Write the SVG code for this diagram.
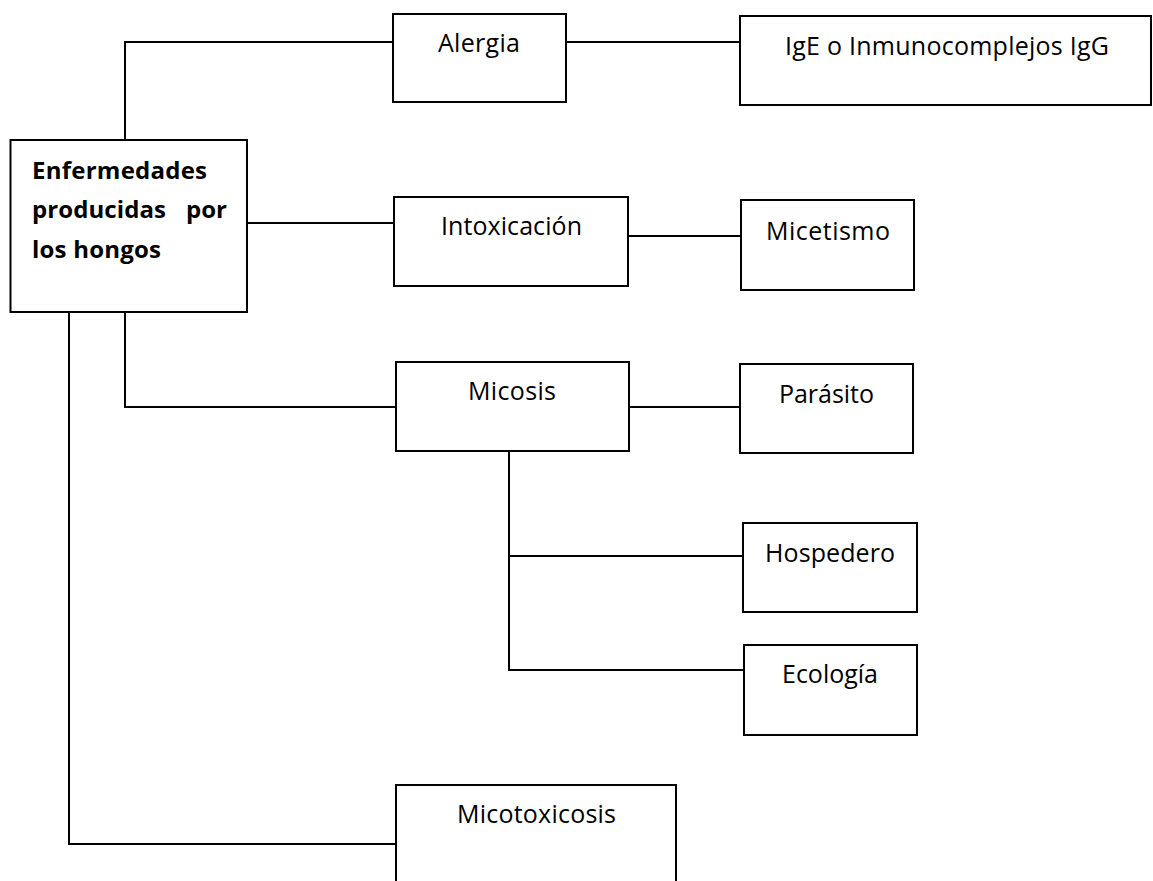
<svg xmlns="http://www.w3.org/2000/svg" width="1153" height="881" viewBox="0 0 1153 881">
<style>
.box{fill:#fff;stroke:#000;stroke-width:2}
.con{fill:none;stroke:#000;stroke-width:2}
.t{font-family:"Open Sans","Noto Sans",sans-serif;font-size:25px;fill:#000}
.b{font-family:"Open Sans","Noto Sans",sans-serif;font-size:24px;font-weight:bold;fill:#000}
</style>
<rect width="1153" height="881" fill="#fff"/>
<g id="connectors">
<path class="con" d="M125,140 V42 H393"/>
<path class="con" d="M566,42 H740"/>
<path class="con" d="M247,223 H394"/>
<path class="con" d="M626,236 H741"/>
<path class="con" d="M125,312 V407 H396"/>
<path class="con" d="M629,407 H740"/>
<path class="con" d="M509,451 V670 H744"/>
<path class="con" d="M509,556 H743"/>
<path class="con" d="M69,312 V844 H396"/>
</g>
<g id="root">
<rect class="box" x="10.5" y="140" width="236.5" height="172"/>
<text class="b" x="32" y="179" textLength="175">Enfermedades</text>
<text class="b" x="32" y="218" textLength="134">producidas</text>
<text class="b" x="227" y="218" text-anchor="end">por</text>
<text class="b" x="32" y="258" textLength="129">los hongos</text>
</g>
<g id="alergia">
<rect class="box" x="393" y="14" width="173" height="88"/>
<text class="t" x="438" y="52" textLength="82">Alergia</text>
</g>
<g id="ige">
<rect class="box" x="740" y="16" width="411" height="89"/>
<text class="t" x="785" y="55" textLength="324">IgE o Inmunocomplejos IgG</text>
</g>
<g id="intoxicacion">
<rect class="box" x="394" y="197" width="234" height="89"/>
<text class="t" x="441" y="235" textLength="141">Intoxicación</text>
</g>
<g id="micetismo">
<rect class="box" x="741" y="200" width="173" height="90"/>
<text class="t" x="766" y="240" textLength="124">Micetismo</text>
</g>
<g id="micosis">
<rect class="box" x="396" y="362" width="233" height="89"/>
<text class="t" x="468" y="400" textLength="88">Micosis</text>
</g>
<g id="parasito">
<rect class="box" x="740" y="364" width="173" height="89"/>
<text class="t" x="779" y="403" textLength="95">Parásito</text>
</g>
<g id="hospedero">
<rect class="box" x="743" y="523" width="174" height="89"/>
<text class="t" x="765" y="562" textLength="130">Hospedero</text>
</g>
<g id="ecologia">
<rect class="box" x="744" y="645" width="173" height="90"/>
<text class="t" x="782" y="683" textLength="96">Ecología</text>
</g>
<g id="micotoxicosis">
<path class="box" d="M396,890 V785 H676 V890"/>
<text class="t" x="457" y="823" textLength="159">Micotoxicosis</text>
</g>
</svg>
